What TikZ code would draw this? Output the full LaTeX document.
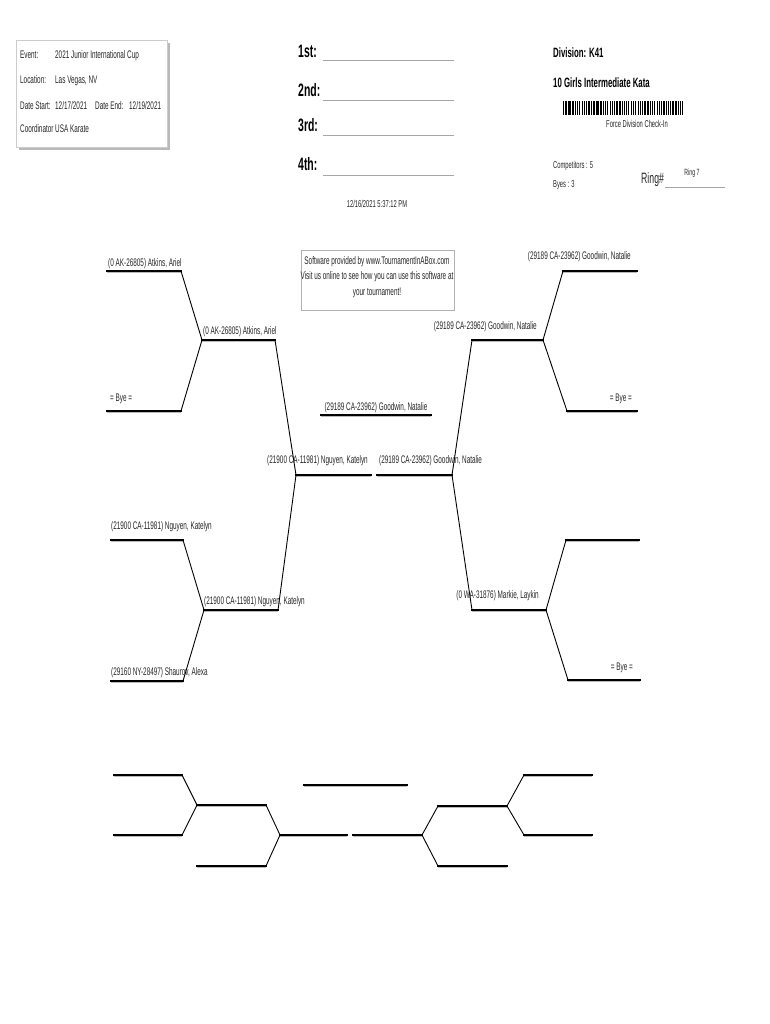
\documentclass[tikz,border=0pt]{standalone}
\usepackage{fontspec}
\setmainfont{Liberation Sans}[FakeStretch=0.58]
\begin{document}
\begin{tikzpicture}[x=1pt,y=-1pt,
  hl/.style={line width=1.6pt, line cap=rect, preaction={draw=gray!55, line width=1.2pt, transform canvas={yshift=-1.3pt}}},
  dl/.style={line width=0.9pt},
  lbl/.style={inner sep=0pt, text=black!85, font=\fontsize{11}{13}\selectfont},
  hdr/.style={inner sep=0pt, text=black!85, font=\fontsize{11}{13}\selectfont, anchor=base west},
  plc/.style={inner sep=0pt, font=\bfseries\fontsize{18}{20}\selectfont, anchor=base west},
  plcline/.style={draw=gray!70, line width=1pt},
  bigb/.style={inner sep=0pt, font=\bfseries\fontsize{13.5}{15}\selectfont, anchor=base west},
  small/.style={inner sep=0pt, text=black!85, font=\fontsize{10}{12}\selectfont}
]
\useasboundingbox (0,0) rectangle (770,1024);
\fill[white] (0,0) rectangle (770,1024);

% ---------- event info box ----------
\fill[gray!55] (19,43) rectangle (170,150);
\draw[gray!40, fill=white, line width=0.6pt] (16,40) rectangle (167,147);
\node[hdr] (evl) at (20,59) {Event:};
\node[hdr] (evv) at (55,59) {2021 Junior International Cup};
\node[hdr] (lol) at (20,84) {Location:};
\node[hdr] (lov) at (55,84) {Las Vegas, NV};
\node[hdr] (dsl) at (20,110) {Date Start:};
\node[hdr] (dsv) at (55,110) {12/17/2021};
\node[hdr] (del) at (95,110) {Date End:};
\node[hdr] (dev) at (129,110) {12/19/2021};
\node[hdr] (col) at (20,133) {Coordinator};
\node[hdr] (cov) at (55,133) {USA Karate};

% ---------- placements ----------
\node[plc] (p1) at (298,58) {1st:};
\node[plc] (p2) at (298,97) {2nd:};
\node[plc] (p3) at (298,132) {3rd:};
\node[plc] (p4) at (298,171) {4th:};
\coordinate (p1a) at (323,61);  \coordinate (p1b) at (454,61);
\coordinate (p2a) at (323,101); \coordinate (p2b) at (454,101);
\coordinate (p3a) at (323,136); \coordinate (p3b) at (454,136);
\coordinate (p4a) at (323,176); \coordinate (p4b) at (454,176);
\draw[plcline] (p1a) -- (p1b);
\draw[plcline] (p2a) -- (p2b);
\draw[plcline] (p3a) -- (p3b);
\draw[plcline] (p4a) -- (p4b);
\node[small, anchor=base] (ts) at (377,208) {12/16/2021 5:37:12 PM};

% ---------- division ----------
\node[bigb] (div) at (553,58) {Division: K41};
\node[bigb] (dname) at (553,88) {10 Girls Intermediate Kata};
\foreach \g/\p in {0/1,1/2,2/3,3/1,4/2,5/3,6/2,7/1,8/3,9/2,10/1,11/3,12/2}{
  \pgfmathsetmacro{\gx}{563+\g*9.35}
  \ifnum\p=1
    \fill (\gx,101) rectangle ++(1,14);
    \fill (\gx+2.2,101) rectangle ++(1.6,14);
    \fill (\gx+4.6,101) rectangle ++(1,14);
    \fill (\gx+6.4,101) rectangle ++(1.6,14);
  \fi
  \ifnum\p=2
    \fill (\gx,101) rectangle ++(1.6,14);
    \fill (\gx+2.6,101) rectangle ++(1,14);
    \fill (\gx+4.4,101) rectangle ++(1.6,14);
    \fill (\gx+6.8,101) rectangle ++(1,14);
  \fi
  \ifnum\p=3
    \fill (\gx,101) rectangle ++(1,14);
    \fill (\gx+1.8,101) rectangle ++(1,14);
    \fill (\gx+3.8,101) rectangle ++(1.6,14);
    \fill (\gx+6.4,101) rectangle ++(1.6,14);
  \fi
}
\node[small, anchor=base] (fdc) at (637,128) {Force Division Check-In};
\node[small, anchor=base west] (comp) at (553,169) {Competitors : 5};
\node[small, anchor=base west] (byes) at (553,188) {Byes : 3};
\node[inner sep=0pt, text=black!85, font=\fontsize{15}{17}\selectfont, anchor=base west] (ring) at (641,184) {Ring\#};
\coordinate (rga) at (665,187); \coordinate (rgb) at (725,187);
\draw[gray!70, line width=0.8pt] (rga) -- (rgb);
\node[inner sep=0pt, text=black!85, font=\fontsize{9}{10}\selectfont, anchor=base] (ringv) at (692,176) {Ring 7};

% ---------- software box ----------
\draw[gray!60, line width=0.6pt] (301,250) rectangle (454,310);
\node[lbl, anchor=base] (sw1) at (377,264) {Software provided by www.TournamentInABox.com};
\node[lbl, anchor=base] (sw2) at (377,279) {Visit us online to see how you can use this software at};
\node[lbl, anchor=base] (sw3) at (377,295) {your tournament!};

% ---------- main bracket coordinates ----------
\coordinate (l1a) at (107,271); \coordinate (l1b) at (181,271);
\coordinate (l2a) at (107,411); \coordinate (l2b) at (181,411);
\coordinate (m1a) at (202,340); \coordinate (m1b) at (275,340);
\coordinate (l3a) at (111,540); \coordinate (l3b) at (183,540);
\coordinate (l4a) at (111,681); \coordinate (l4b) at (183,681);
\coordinate (m2a) at (204,610); \coordinate (m2b) at (278,610);
\coordinate (lca) at (296,475); \coordinate (lcb) at (371,475);
\coordinate (rca) at (377,475); \coordinate (rcb) at (452,475);
\coordinate (wa) at (321,415); \coordinate (wb) at (431,415);
\coordinate (r1a) at (563,271); \coordinate (r1b) at (637,271);
\coordinate (r2a) at (567,411); \coordinate (r2b) at (637,411);
\coordinate (n1a) at (472,340); \coordinate (n1b) at (543,340);
\coordinate (r3a) at (566,540); \coordinate (r3b) at (639,540);
\coordinate (r4a) at (568,680); \coordinate (r4b) at (640,680);
\coordinate (n2a) at (472,610); \coordinate (n2b) at (546,610);

\draw[hl] (l1a) -- (l1b);
\draw[hl] (l2a) -- (l2b);
\draw[hl] (m1a) -- (m1b);
\draw[hl] (l3a) -- (l3b);
\draw[hl] (l4a) -- (l4b);
\draw[hl] (m2a) -- (m2b);
\draw[hl] (lca) -- (lcb);
\draw[hl] (rca) -- (rcb);
\draw[hl] (wa) -- (wb);
\draw[hl] (r1a) -- (r1b);
\draw[hl] (r2a) -- (r2b);
\draw[hl] (n1a) -- (n1b);
\draw[hl] (r3a) -- (r3b);
\draw[hl] (r4a) -- (r4b);
\draw[hl] (n2a) -- (n2b);

\draw[dl] (l1b) -- (m1a) -- (l2b);
\draw[dl] (l3b) -- (m2a) -- (l4b);
\draw[dl] (m1b) -- (lca) -- (m2b);
\draw[dl] (r1a) -- (n1b) -- (r2a);
\draw[dl] (r3a) -- (n2b) -- (r4a);
\draw[dl] (n1a) -- (rcb) -- (n2a);

% ---------- bracket labels ----------
\node[lbl, anchor=base west] (t1) at (108,266) {(0 AK-26805) Atkins, Ariel};
\node[lbl, anchor=base west] (t2) at (110,401) {= Bye =};
\node[lbl, anchor=base west] (t3) at (111,529) {(21900 CA-11981) Nguyen, Katelyn};
\node[lbl, anchor=base west] (t4) at (111,675) {(29160 NY-28497) Shaurov, Alexa};
\node[lbl, anchor=base west] (t5) at (203,334) {(0 AK-26805) Atkins, Ariel};
\node[lbl, anchor=base west] (t6) at (204,604) {(21900 CA-11981) Nguyen, Katelyn};
\node[lbl, anchor=base east] (t7) at (368,463) {(21900 CA-11981) Nguyen, Katelyn};
\node[lbl, anchor=base west] (t8) at (379,463) {(29189 CA-23962) Goodwin, Natalie};
\node[lbl, anchor=base] (t9) at (376,410) {(29189 CA-23962) Goodwin, Natalie};
\node[lbl, anchor=base east] (t10) at (631,259) {(29189 CA-23962) Goodwin, Natalie};
\node[lbl, anchor=base east] (t11) at (632,401) {= Bye =};
\node[lbl, anchor=base east] (t12) at (537,329) {(29189 CA-23962) Goodwin, Natalie};
\node[lbl, anchor=base east] (t13) at (539,598) {(0 WA-31876) Markie, Laykin};
\node[lbl, anchor=base east] (t14) at (633,670) {= Bye =};

% ---------- lower (empty) bracket ----------
\coordinate (b1a) at (114,775); \coordinate (b1b) at (182,775);
\coordinate (b2a) at (114,835); \coordinate (b2b) at (182,835);
\coordinate (bm1a) at (197,805); \coordinate (bm1b) at (266,805);
\coordinate (b3a) at (197,866); \coordinate (b3b) at (266,866);
\coordinate (bca) at (280,835); \coordinate (bcb) at (347,835);
\coordinate (bwa) at (304,785); \coordinate (bwb) at (407,785);
\coordinate (brca) at (353,835); \coordinate (brcb) at (422,835);
\coordinate (bn1a) at (438,806); \coordinate (bn1b) at (507,806);
\coordinate (br1a) at (524,775); \coordinate (br1b) at (592,775);
\coordinate (br2a) at (524,835); \coordinate (br2b) at (592,835);
\coordinate (br3a) at (438,866); \coordinate (br3b) at (507,866);

\draw[hl] (b1a) -- (b1b);
\draw[hl] (b2a) -- (b2b);
\draw[hl] (bm1a) -- (bm1b);
\draw[hl] (b3a) -- (b3b);
\draw[hl] (bca) -- (bcb);
\draw[hl] (bwa) -- (bwb);
\draw[hl] (brca) -- (brcb);
\draw[hl] (bn1a) -- (bn1b);
\draw[hl] (br1a) -- (br1b);
\draw[hl] (br2a) -- (br2b);
\draw[hl] (br3a) -- (br3b);

\draw[dl] (b1b) -- (bm1a) -- (b2b);
\draw[dl] (bm1b) -- (bca) -- (b3b);
\draw[dl] (bn1a) -- (brcb) -- (br3a);
\draw[dl] (br1a) -- (bn1b) -- (br2a);
\end{tikzpicture}
\end{document}
